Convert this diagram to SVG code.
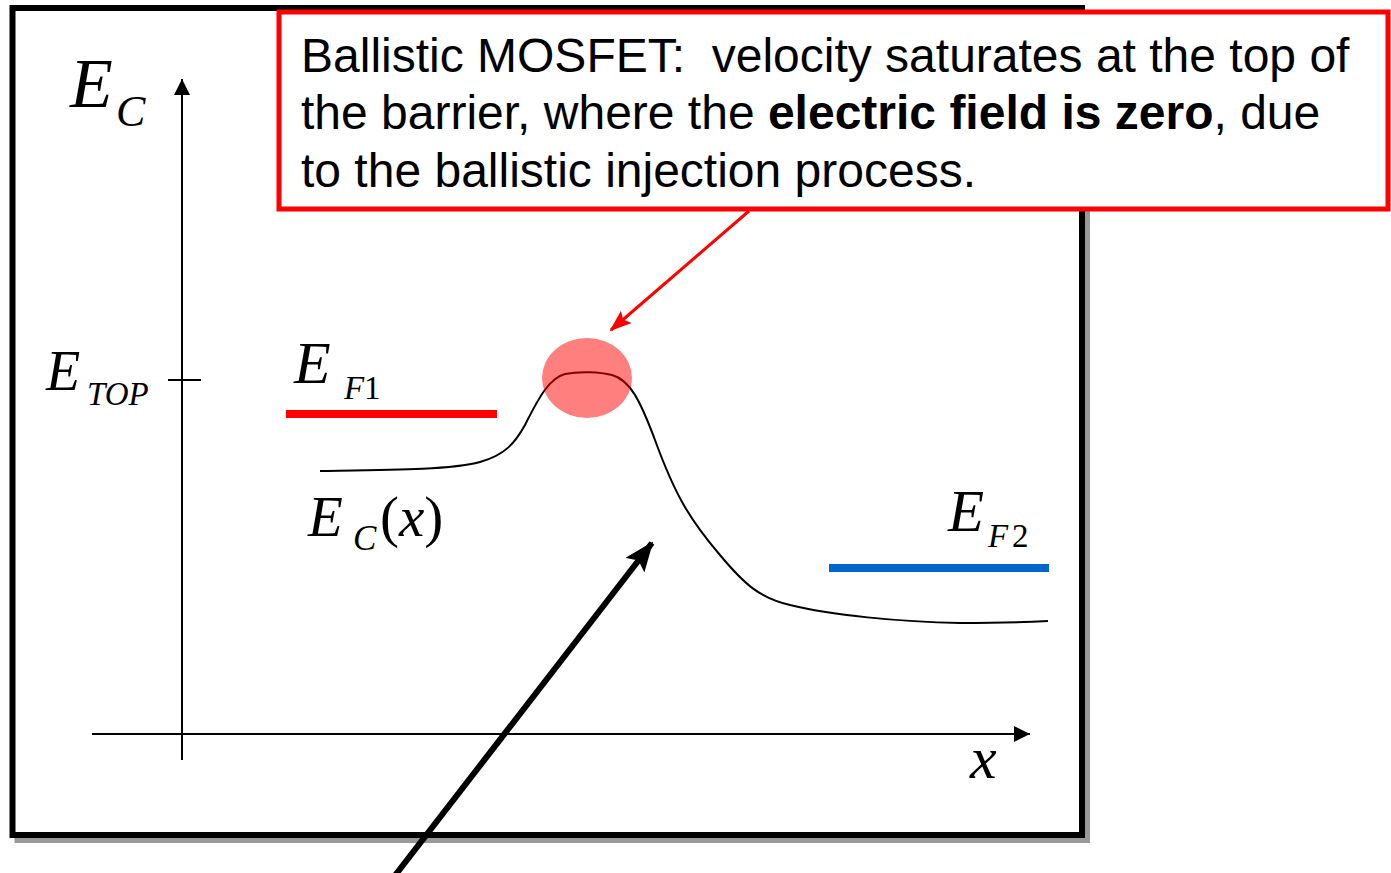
<svg xmlns="http://www.w3.org/2000/svg" width="1391" height="873" viewBox="0 0 1391 873">
<style>
.m{font-family:"Liberation Serif","Times New Roman",serif;font-style:italic;fill:#000}
.u{font-style:normal}
.t{font-family:"Liberation Sans",Arial,sans-serif;font-size:48px;fill:#000;white-space:pre}
.ax{stroke:#000;stroke-width:2;fill:none}
</style>
<defs>
<marker id="ah" markerWidth="16" markerHeight="16" refX="16" refY="8" orient="auto" markerUnits="userSpaceOnUse"><path d="M0,0 L16,8 L0,16 Z" fill="#000"/></marker>
<marker id="ahr" markerWidth="22" markerHeight="16" refX="20" refY="8" orient="auto" markerUnits="userSpaceOnUse"><path d="M0,0 L22,8 L0,16 L4,8 Z" fill="#f00"/></marker>
<marker id="ahb" markerWidth="30" markerHeight="24" refX="28" refY="12" orient="auto" markerUnits="userSpaceOnUse"><path d="M0,0 L30,12 L0,24 L6,12 Z" fill="#000"/></marker>
</defs>
<g id="frame">
<rect x="17.5" y="13" width="1069.5" height="827" fill="none" stroke="#999" stroke-width="6"/>
<rect x="12.5" y="8" width="1069.5" height="827" fill="#fff" stroke="#000" stroke-width="6"/>
</g>
<g id="axes">
<line class="ax" x1="182" y1="760" x2="182" y2="79" marker-end="url(#ah)"/>
<line class="ax" x1="92" y1="734" x2="1030" y2="734" marker-end="url(#ah)"/>
<line class="ax" x1="168" y1="380" x2="201" y2="380"/>
</g>
<g id="labels">
<text class="m" x="70" y="107" font-size="70">E<tspan font-size="44" x="116" y="126">C</tspan></text>
<text class="m" x="46" y="390" font-size="56">E<tspan font-size="33" x="87" y="405">TOP</tspan></text>
<text class="m" x="294" y="383" font-size="60">E<tspan font-size="33" x="344" y="399">F</tspan><tspan class="u" font-size="33" x="364" y="399">1</tspan></text>
<text class="m" x="308" y="536" font-size="57">E<tspan font-size="35" x="353" y="550">C</tspan><tspan class="u" x="380" y="536">(</tspan>x<tspan class="u">)</tspan></text>
<text class="m" x="948" y="531" font-size="59">E<tspan font-size="33" x="988" y="547">F</tspan><tspan class="u" font-size="33" x="1012" y="547">2</tspan></text>
<text class="m" x="970" y="778" font-size="60">x</text>
</g>
<g id="levels">
<line x1="286" y1="414" x2="497" y2="414" stroke="#f00" stroke-width="8"/>
<line x1="829" y1="568" x2="1049" y2="568" stroke="#0066cc" stroke-width="8"/>
</g>
<g id="curve">
<path d="M320,471 C390,470 450,470 480,462 C505,455 515,443 525,425 C540,395 550,378 565,374 C580,371 600,372 612,375 C630,380 640,400 655,440 C675,495 690,520 720,555 C745,585 760,598 790,605 C830,615 900,622 960,623 C1000,623 1030,622 1048,621" fill="none" stroke="#000" stroke-width="2"/>
</g>
<g id="top-spot">
<ellipse cx="587" cy="378" rx="45" ry="40" fill="#ff0000" fill-opacity="0.5"/>
</g>
<g id="callout">
<rect x="279" y="12" width="1109" height="197" fill="#fff" stroke="#f00" stroke-width="5"/>
<text class="t" x="301" y="72" xml:space="preserve">Ballistic MOSFET:  velocity saturates at the top of</text>
<text class="t" x="301" y="129">the barrier, where the <tspan font-weight="bold">electric field is zero</tspan>, due</text>
<text class="t" x="301" y="187">to the ballistic injection process.</text>
</g>
<g id="connectors">
<line x1="749" y1="211" x2="611" y2="330" stroke="#f00" stroke-width="3" marker-end="url(#ahr)"/>
<line x1="390" y1="882" x2="652" y2="543" stroke="#000" stroke-width="6" marker-end="url(#ahb)"/>
</g>
</svg>
